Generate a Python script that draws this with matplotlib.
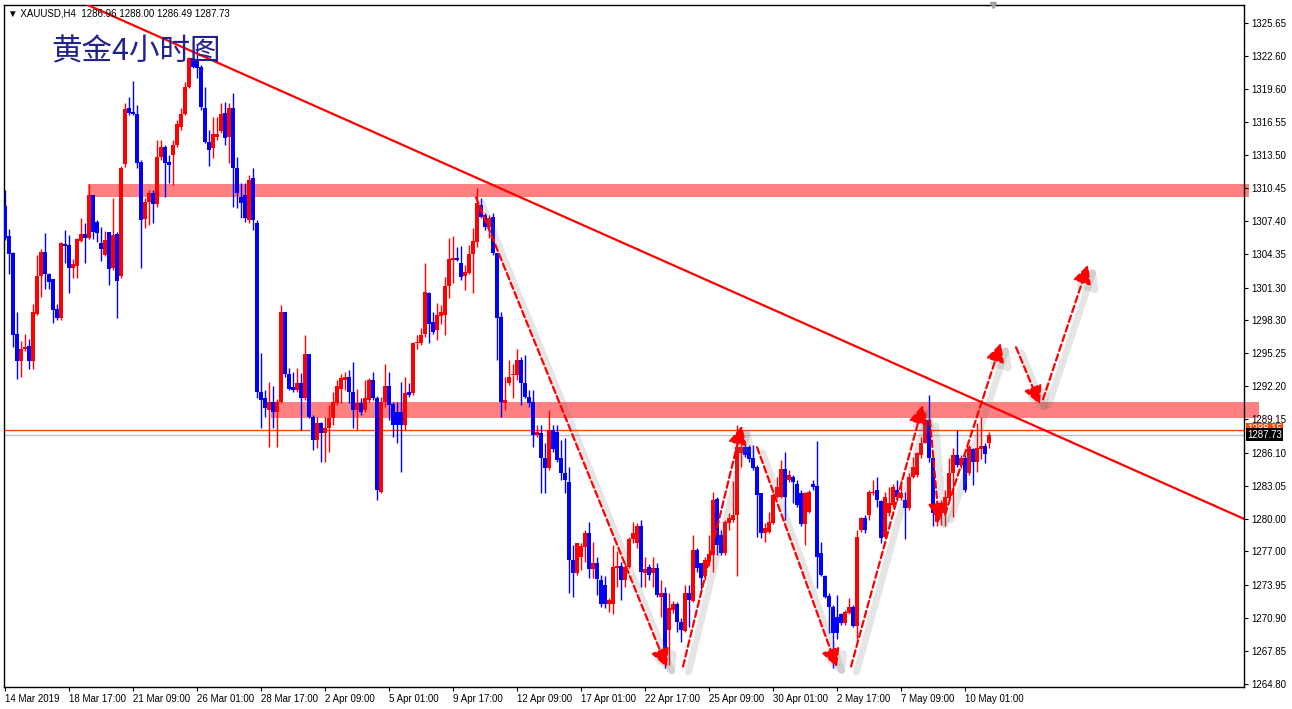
import matplotlib
matplotlib.use('Agg')
import matplotlib.pyplot as plt
import matplotlib.patheffects as pe
from matplotlib.patches import Rectangle
from matplotlib.transforms import blended_transform_factory
import numpy as np

# XAUUSD H4 candles (bar index 0 = 14 Mar 2019 01:00)
opens = [
    1308.8, 1306.0, 1304.5, 1297.0, 1294.5, 1295.6, 1295.9, 1294.5, 1298.9, 1302.4,
    1304.6, 1302.5, 1302.1, 1299.3, 1298.5, 1305.3, 1305.2, 1303.1, 1303.3, 1305.6,
    1306.2, 1305.9, 1309.8, 1307.3, 1305.4, 1304.3, 1306.4, 1303.1, 1306.2, 1302.4,
    1312.7, 1317.8, 1317.5, 1317.3, 1312.9, 1307.6, 1309.2, 1310.0, 1309.0, 1313.3,
    1314.2, 1312.9, 1313.5, 1314.4, 1316.1, 1317.3, 1319.8, 1322.4, 1322.2, 1321.6,
    1317.8, 1314.7, 1314.1, 1315.2, 1315.7, 1317.4, 1315.2, 1317.8, 1312.3, 1309.6,
    1309.8, 1307.5, 1311.4, 1307.2, 1291.7, 1291.1, 1290.0, 1290.8, 1289.8, 1290.8,
    1299.0, 1293.3, 1292.1, 1291.9, 1292.5, 1291.1, 1295.2, 1289.4, 1287.3, 1288.8,
    1287.9, 1288.4, 1289.3, 1290.7, 1292.0, 1292.8, 1293.1, 1291.7, 1290.0, 1290.7,
    1290.0, 1290.9, 1292.8, 1291.1, 1282.5, 1290.8, 1292.2, 1290.6, 1289.8, 1289.8,
    1288.6, 1291.7, 1291.6, 1296.2, 1296.2, 1297.0, 1300.8, 1298.1, 1297.4, 1298.7,
    1298.8, 1301.4, 1303.8, 1304.0, 1303.6, 1302.4, 1302.6, 1304.4, 1305.5, 1308.9,
    1308.0, 1306.9, 1307.8, 1304.5, 1298.6, 1290.7, 1292.5, 1293.2, 1293.2, 1294.6,
    1292.5, 1291.2, 1290.8, 1287.7, 1287.9, 1285.6, 1284.7, 1288.2, 1288.0, 1285.6,
    1284.2, 1283.4, 1276.2, 1275.0, 1276.5, 1277.4, 1278.7, 1275.4, 1275.9, 1274.4,
    1273.9, 1272.2, 1272.2, 1275.5, 1275.7, 1274.4, 1275.6, 1278.1, 1277.8, 1279.3,
    1275.0, 1275.6, 1275.0, 1275.5, 1272.8, 1273.2, 1269.8, 1271.6, 1272.2, 1270.5,
    1269.7, 1273.2, 1272.4, 1277.1, 1275.9, 1274.7, 1276.0, 1276.7, 1281.8, 1278.5,
    1276.9, 1279.6, 1279.9, 1280.4, 1286.1, 1286.6, 1286.6, 1285.6, 1284.8, 1282.4,
    1278.7, 1278.8, 1279.6, 1282.0, 1282.0, 1284.6, 1283.6, 1283.9, 1283.2, 1282.4,
    1279.5, 1280.6, 1283.2, 1283.0, 1276.9, 1274.7, 1272.9, 1271.9, 1271.0, 1271.2,
    1270.4, 1271.3, 1271.9, 1270.1, 1279.0, 1280.1, 1280.4, 1282.4, 1282.7, 1281.6,
    1278.3, 1280.5, 1281.3, 1282.7, 1281.9, 1281.7, 1281.0, 1283.9, 1284.0, 1285.9,
    1287.0, 1289.1, 1285.6, 1279.7, 1280.5, 1280.5, 1281.9, 1284.2, 1285.9, 1285.0,
    1285.6, 1284.2, 1286.4, 1285.2, 1286.4, 1286.7, 1286.96]
highs = [
    1310.3, 1306.7, 1304.6, 1299.0, 1296.4, 1297.0, 1296.6, 1299.8, 1304.3, 1304.8,
    1306.3, 1302.6, 1302.1, 1299.8, 1305.5, 1306.6, 1306.1, 1303.9, 1305.9, 1307.7,
    1307.2, 1310.8, 1309.8, 1307.5, 1306.9, 1306.5, 1306.4, 1309.5, 1306.4, 1312.5,
    1318.3, 1318.8, 1320.3, 1318.1, 1313.0, 1309.5, 1310.3, 1310.3, 1314.9, 1314.9,
    1314.4, 1313.5, 1314.9, 1316.7, 1317.8, 1320.2, 1322.5, 1324.1, 1323.6, 1321.8,
    1319.8, 1315.8, 1317.0, 1317.0, 1318.3, 1318.4, 1318.3, 1319.2, 1313.3, 1310.9,
    1310.9, 1311.7, 1312.3, 1307.5, 1295.3, 1291.9, 1292.6, 1292.2, 1291.0, 1299.7,
    1299.0, 1293.9, 1293.5, 1293.9, 1293.4, 1296.9, 1295.2, 1289.6, 1289.4, 1288.9,
    1289.4, 1290.5, 1291.7, 1292.8, 1293.3, 1293.5, 1293.7, 1294.4, 1292.0, 1291.1,
    1292.8, 1293.0, 1293.5, 1291.3, 1291.2, 1294.3, 1293.5, 1290.8, 1290.8, 1292.6,
    1293.1, 1292.5, 1296.3, 1296.9, 1297.6, 1303.6, 1300.9, 1299.0, 1299.9, 1299.7,
    1302.3, 1305.9, 1306.0, 1305.0, 1305.1, 1303.4, 1305.2, 1306.8, 1310.5, 1309.5,
    1308.2, 1308.0, 1308.2, 1304.5, 1299.0, 1293.1, 1294.6, 1294.3, 1295.6, 1294.9,
    1295.1, 1291.9, 1291.9, 1288.6, 1288.6, 1287.0, 1290.0, 1288.6, 1288.6, 1287.3,
    1287.4, 1284.8, 1277.6, 1277.8, 1277.8, 1279.0, 1279.7, 1277.9, 1276.5, 1274.8,
    1274.7, 1272.7, 1277.6, 1277.0, 1276.0, 1275.9, 1278.3, 1279.7, 1279.6, 1279.9,
    1276.5, 1275.8, 1276.5, 1275.9, 1274.4, 1273.7, 1273.2, 1272.4, 1272.3, 1270.9,
    1273.9, 1273.9, 1278.5, 1277.3, 1275.9, 1276.5, 1278.5, 1282.5, 1282.0, 1279.0,
    1279.9, 1280.5, 1283.5, 1288.6, 1287.3, 1286.8, 1286.8, 1286.8, 1285.0, 1282.4,
    1279.6, 1280.6, 1282.4, 1283.9, 1285.4, 1286.2, 1284.5, 1284.0, 1283.6, 1282.7,
    1282.5, 1282.7, 1283.6, 1287.2, 1277.9, 1274.8, 1273.2, 1272.1, 1273.0, 1271.3,
    1271.6, 1272.7, 1272.1, 1279.0, 1280.2, 1280.4, 1282.7, 1283.6, 1283.9, 1281.7,
    1282.5, 1282.9, 1283.2, 1283.6, 1283.6, 1282.5, 1284.2, 1285.7, 1286.2, 1287.5,
    1289.8, 1291.4, 1285.6, 1281.1, 1281.7, 1282.7, 1285.6, 1286.5, 1288.2, 1285.9,
    1285.9, 1286.8, 1286.5, 1288.8, 1289.4, 1287.0, 1288.00]
lows = [
    1305.7, 1302.5, 1295.8, 1292.9, 1293.1, 1295.5, 1293.8, 1293.8, 1298.8, 1300.4,
    1301.2, 1301.2, 1298.0, 1298.3, 1298.3, 1303.6, 1300.8, 1302.2, 1302.2, 1305.5,
    1303.6, 1305.8, 1305.8, 1305.5, 1303.7, 1304.2, 1301.5, 1302.9, 1298.5, 1302.2,
    1312.4, 1317.2, 1317.2, 1312.3, 1303.1, 1306.8, 1307.1, 1307.2, 1308.7, 1313.0,
    1309.6, 1310.9, 1310.7, 1314.2, 1315.8, 1317.2, 1319.7, 1321.5, 1320.6, 1317.6,
    1314.6, 1312.5, 1313.2, 1314.9, 1315.5, 1314.4, 1312.8, 1308.7, 1308.6, 1307.7,
    1307.3, 1307.2, 1306.6, 1291.1, 1288.4, 1289.4, 1286.6, 1288.4, 1286.6, 1290.7,
    1293.1, 1291.9, 1291.7, 1291.7, 1288.2, 1290.9, 1289.3, 1286.3, 1286.5, 1285.2,
    1285.2, 1286.2, 1288.6, 1290.5, 1290.7, 1291.9, 1290.7, 1288.4, 1288.2, 1289.6,
    1289.8, 1290.8, 1290.9, 1281.7, 1282.4, 1290.3, 1289.1, 1287.5, 1287.0, 1284.3,
    1288.2, 1291.2, 1291.4, 1295.6, 1296.0, 1296.7, 1296.2, 1297.0, 1296.5, 1297.9,
    1296.9, 1300.3, 1301.7, 1303.7, 1302.0, 1301.1, 1302.5, 1300.8, 1305.0, 1307.7,
    1306.6, 1305.9, 1304.3, 1294.6, 1289.4, 1290.0, 1292.3, 1291.1, 1292.8, 1290.5,
    1291.1, 1290.3, 1286.6, 1287.5, 1282.4, 1282.4, 1284.5, 1286.2, 1285.2, 1283.6,
    1282.4, 1273.2, 1272.8, 1274.8, 1275.3, 1276.0, 1274.6, 1274.6, 1273.0, 1271.9,
    1271.8, 1271.4, 1271.2, 1273.7, 1272.5, 1273.7, 1275.5, 1277.8, 1277.3, 1273.7,
    1273.7, 1274.4, 1273.7, 1272.8, 1271.0, 1266.3, 1266.5, 1271.3, 1269.6, 1268.7,
    1269.6, 1270.0, 1272.3, 1275.1, 1273.5, 1274.4, 1275.7, 1275.1, 1276.7, 1276.7,
    1276.7, 1279.0, 1279.7, 1274.7, 1284.8, 1285.7, 1285.2, 1284.5, 1278.3, 1278.2,
    1277.9, 1278.7, 1279.5, 1281.9, 1281.9, 1279.9, 1283.4, 1281.5, 1281.1, 1279.3,
    1277.6, 1280.5, 1282.7, 1273.6, 1274.7, 1272.7, 1269.5, 1266.3, 1268.9, 1270.2,
    1270.2, 1271.2, 1270.0, 1268.9, 1278.8, 1278.7, 1279.9, 1282.2, 1281.1, 1277.8,
    1278.2, 1280.3, 1281.1, 1281.6, 1281.7, 1278.1, 1280.8, 1283.8, 1283.9, 1285.6,
    1287.0, 1285.2, 1279.3, 1279.3, 1279.4, 1279.3, 1281.7, 1280.2, 1284.8, 1284.7,
    1282.5, 1284.0, 1283.1, 1284.3, 1285.5, 1285.1, 1286.49]
closes = [
    1305.9, 1304.4, 1296.9, 1294.5, 1295.6, 1295.8, 1294.5, 1299.0, 1302.4, 1304.6,
    1302.5, 1301.8, 1299.2, 1298.5, 1305.4, 1305.1, 1303.1, 1303.5, 1305.8, 1306.2,
    1305.9, 1309.8, 1306.4, 1306.3, 1304.8, 1305.7, 1303.0, 1306.1, 1301.9, 1312.3,
    1317.7, 1317.4, 1317.3, 1312.8, 1307.5, 1309.2, 1310.0, 1309.0, 1313.3, 1314.2,
    1312.8, 1312.6, 1314.4, 1316.4, 1317.3, 1319.8, 1322.4, 1321.6, 1321.5, 1317.9,
    1314.7, 1314.0, 1315.4, 1315.4, 1317.3, 1315.1, 1317.8, 1312.3, 1310.0, 1309.1,
    1307.7, 1311.2, 1307.5, 1291.7, 1290.9, 1290.2, 1290.8, 1289.8, 1290.8, 1299.0,
    1293.3, 1292.0, 1291.9, 1292.5, 1291.1, 1295.2, 1289.4, 1287.3, 1288.8, 1287.9,
    1288.4, 1289.3, 1290.8, 1292.2, 1293.0, 1293.1, 1291.7, 1290.0, 1290.7, 1289.8,
    1291.1, 1292.8, 1291.1, 1282.7, 1290.8, 1292.2, 1290.5, 1288.6, 1288.6, 1288.6,
    1291.6, 1291.4, 1296.2, 1296.3, 1296.9, 1300.9, 1297.9, 1297.2, 1298.8, 1299.0,
    1301.4, 1303.9, 1304.0, 1303.8, 1302.3, 1302.7, 1304.4, 1305.6, 1309.1, 1307.8,
    1306.9, 1307.7, 1304.5, 1298.5, 1290.8, 1290.9, 1293.1, 1293.3, 1294.6, 1292.5,
    1291.2, 1290.7, 1287.7, 1288.0, 1285.6, 1284.7, 1288.2, 1286.4, 1285.4, 1284.2,
    1283.6, 1276.2, 1275.0, 1277.8, 1277.5, 1278.7, 1275.4, 1275.9, 1274.5, 1272.2,
    1272.2, 1272.5, 1275.6, 1275.7, 1274.4, 1275.6, 1278.1, 1278.7, 1279.3, 1275.1,
    1275.4, 1274.8, 1275.5, 1273.0, 1273.2, 1266.7, 1271.8, 1272.2, 1270.5, 1269.8,
    1273.2, 1272.5, 1277.1, 1275.5, 1274.6, 1276.2, 1276.8, 1281.7, 1277.6, 1276.9,
    1279.7, 1280.1, 1280.4, 1286.6, 1286.6, 1285.9, 1285.5, 1284.7, 1282.2, 1278.7,
    1279.2, 1279.7, 1282.2, 1282.9, 1284.6, 1282.0, 1284.0, 1283.4, 1281.3, 1279.5,
    1282.4, 1282.5, 1282.9, 1276.5, 1274.8, 1272.8, 1271.9, 1269.5, 1269.5, 1270.4,
    1271.4, 1271.9, 1270.1, 1278.3, 1280.1, 1279.0, 1282.5, 1282.5, 1281.7, 1278.2,
    1282.0, 1281.5, 1282.9, 1282.0, 1282.4, 1281.0, 1283.9, 1284.8, 1286.1, 1287.0,
    1289.1, 1285.6, 1280.5, 1280.5, 1281.3, 1282.0, 1284.2, 1285.9, 1285.0, 1285.6,
    1282.7, 1286.6, 1285.2, 1286.5, 1286.7, 1286.0, 1287.73]

date_ticks = [0, 16, 32, 48, 64, 80, 96, 112, 128, 144, 160, 176, 192, 208, 224, 240]
date_labels = ['14 Mar 2019', '18 Mar 17:00', '21 Mar 09:00', '26 Mar 01:00',
               '28 Mar 17:00', '2 Apr 09:00', '5 Apr 01:00', '9 Apr 17:00',
               '12 Apr 09:00', '17 Apr 01:00', '22 Apr 17:00', '25 Apr 09:00',
               '30 Apr 01:00', '2 May 17:00', '7 May 09:00', '10 May 01:00']
price_ticks = [1264.80, 1267.85, 1270.90, 1273.95, 1277.00, 1280.00, 1283.05,
               1286.10, 1289.15, 1292.20, 1295.25, 1298.30, 1301.30, 1304.35,
               1307.40, 1310.45, 1313.50, 1316.55, 1319.60, 1322.60, 1325.65]

# drawn objects (bar index, price)
zones = [(20.75, 311.0, 1309.6, 1310.8), (66.5, 313.5, 1289.3, 1290.8)]
trend_x = [20.75, 309.75]
trend_y = [1327.3, 1280.0]
arrow_from = [(117.75, 1309.6), (169.5, 1266.4), (188.0, 1286.6), (211.5, 1266.4),
              (231.25, 1289.1), (235.0, 1280.4), (252.75, 1295.8), (259.5, 1291.0)]
arrow_to = [(165.5, 1266.3), (184.25, 1288.6), (208.0, 1266.3), (229.5, 1290.5),
            (233.5, 1279.7), (249.0, 1296.2), (258.75, 1290.5), (270.75, 1303.4)]
ask_line = 1288.15
bid_line = 1287.73

n = min(len(opens), len(highs), len(lows), len(closes))
o = np.array(opens[:n])
h = np.array(highs[:n])
l = np.array(lows[:n])
c = np.array(closes[:n])
x = np.arange(n)
colors = np.where(c >= o, '#ff0000', '#0000ff')

fig = plt.figure(figsize=(12.92, 7.09), dpi=100)
fig.patch.set_facecolor('white')
ax = fig.add_axes([4 / 1292, 1 - 687 / 709, 1240 / 1292, 682 / 709])
ax.set_xlim(-0.25, 309.75)
ax.set_ylim(1264.52, 1327.31)

for x0, x1, p0, p1 in zones:
    ax.add_patch(Rectangle((x0, p0), x1 - x0, p1 - p0, facecolor='#ff8080',
                           edgecolor='none', zorder=1, clip_on=False))

ax.axhline(ask_line, color='#ff4500', lw=1, zorder=1.5)
ax.axhline(bid_line, color='#c0c0c0', lw=1, zorder=1.5)

ax.vlines(x, l, h, colors=colors, lw=1.0, zorder=2)
body = np.maximum(np.abs(c - o), 0.08)
ax.bar(x, body, bottom=np.minimum(o, c), width=0.8, color=colors,
       linewidth=0, zorder=3)

ax.plot(trend_x, trend_y, color='#ff0000', lw=1.6, zorder=4)

shadow = [pe.SimpleLineShadow(offset=(4, -4), shadow_color='#707070', alpha=0.18,
                              linewidth=5), pe.Normal()]
for (xa, ya), (xb, yb) in zip(arrow_from, arrow_to):
    ax.annotate('', xy=(xb, yb), xytext=(xa, ya), zorder=5,
                arrowprops=dict(arrowstyle='-|>,head_length=0.7,head_width=0.35',
                                color='#ff0000', lw=1.6, linestyle=(0, (3, 1.6)),
                                mutation_scale=16, shrinkA=0, shrinkB=0,
                                path_effects=shadow))

# axes styling
for sp in ax.spines.values():
    sp.set_color('black')
    sp.set_linewidth(1)
ax.yaxis.tick_right()
ax.set_yticks(price_ticks)
ax.set_yticklabels(['%.2f' % p for p in price_ticks], fontsize=7,
                   family='Liberation Sans')
ax.set_xticks(date_ticks)
ax.set_xticklabels(date_labels, fontsize=7, family='Liberation Sans', ha='left')
ax.tick_params(axis='both', direction='out', length=3, width=0.8, pad=2,
               colors='black')

tr = blended_transform_factory(ax.transAxes, ax.transData)
ax.text(1.0025, ask_line + 0.12, '1288.15', transform=tr, fontsize=7, color='white',
        family='Liberation Sans', va='center', ha='left', zorder=6,
        bbox=dict(boxstyle='square,pad=0.15', facecolor='#ff4500', edgecolor='none'))
ax.text(1.0025, bid_line, '1287.73', transform=tr, fontsize=7, color='white',
        family='Liberation Sans', va='center', ha='left', zorder=7,
        bbox=dict(boxstyle='square,pad=0.15', facecolor='black', edgecolor='none'))

ax.text(0.003, 0.988, '\u25bc XAUUSD,H4  1286.96 1288.00 1286.49 1287.73',
        transform=ax.transAxes, fontsize=7, family=['Liberation Sans', 'DejaVu Sans'],
        va='center', ha='left', zorder=6)
ax.text(0.0385, 0.931, '黄金4小时图', transform=ax.transAxes, fontsize=22,
        family=['Noto Sans CJK SC', 'DejaVu Sans'], color='#23238c',
        va='center', ha='left', zorder=6)
ax.plot([247], [1327.31], marker='v', color='#a0a0a0', markersize=5,
        clip_on=False, zorder=6)

fig.savefig('out.png', dpi=100, facecolor='white')
